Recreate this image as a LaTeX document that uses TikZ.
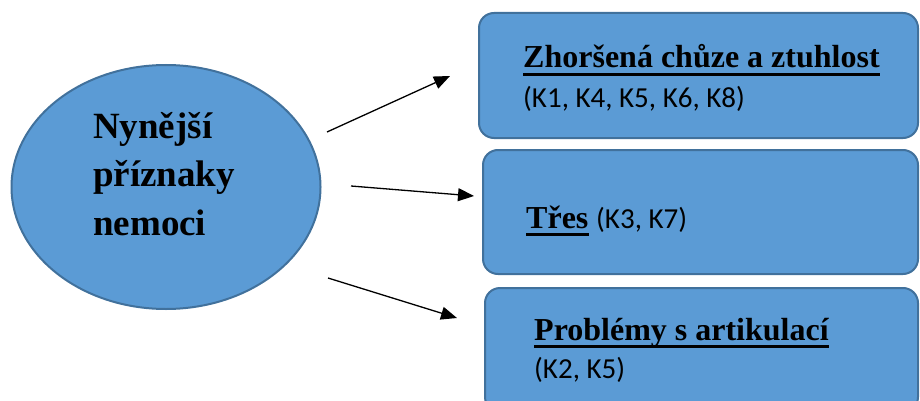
\documentclass[tikz,border=0pt]{standalone}
\usepackage{fontspec}
\setmainfont{Liberation Serif}
\newfontfamily\calib{Carlito}
\usetikzlibrary{shapes.geometric,arrows.meta}
\definecolor{boxfill}{HTML}{5B9BD5}
\definecolor{boxline}{HTML}{41719C}
\tikzset{
  bubble/.style={ellipse, draw=boxline, line width=2pt, fill=boxfill, inner sep=0pt},
  panel/.style={rectangle, rounded corners=15pt, draw=boxline, line width=2pt, fill=boxfill, inner sep=0pt},
  bigtxt/.style={anchor=base west, inner sep=0pt, font=\fontsize{37}{44}\selectfont\bfseries},
  ttl/.style={anchor=base west, inner sep=0pt, font=\fontsize{32}{38}\selectfont\bfseries},
  sub/.style={anchor=base west, inner sep=0pt, font=\fontsize{29}{35}\calib},
  uline/.style={line width=3pt},
  arr/.style={line width=1.3pt, -{Triangle[length=16pt,width=13pt]}}
}
\begin{document}
\begin{tikzpicture}[x=1pt,y=-1pt]
\useasboundingbox (0,0) rectangle (920,401);
\clip (0,0) rectangle (920,401);
% ellipse
\node[bubble, minimum width=309pt, minimum height=244pt] (ell) at (166,187) {};
\node[bigtxt] (e1) at (93,138) {Nynější};
\node[bigtxt] (e2) at (93,186) {příznaky};
\node[bigtxt] (e3) at (93,235) {nemoci};
% boxes
\node[panel, minimum width=439pt, minimum height=125pt] (b1) at (698.5,75.5) {};
\node[panel, minimum width=435pt, minimum height=124pt] (b2) at (700.5,212) {};
\node[panel, minimum width=433pt, minimum height=124pt] (b3) at (701.5,350) {};
% texts
\node[ttl] (t1) at (523,68) {Zhoršená chůze a ztuhlost};
\node[sub] (s1) at (523,108) {(K1, K4, K5, K6, K8)};
\node[ttl] (t2) at (526,228) {Třes};
\node[sub] (s2) at (596,228) {(K3, K7)};
\node[ttl] (t3) at (534,340) {Problémy s artikulací};
\node[sub] (s3) at (534,378) {(K2, K5)};
% underlines
\foreach \t in {t1,t2,t3}{
  \draw[uline] ([yshift=-6.5pt]\t.base west) -- ([yshift=-6.5pt]\t.base east);
}
% arrows
\coordinate (a1s) at (327,132);
\coordinate (a1e) at (450,76);
\coordinate (a2s) at (351,186);
\coordinate (a2e) at (474,196);
\coordinate (a3s) at (328,278);
\coordinate (a3e) at (457,318);
\draw[arr] (a1s) -- (a1e);
\draw[arr] (a2s) -- (a2e);
\draw[arr] (a3s) -- (a3e);
\end{tikzpicture}
\end{document}
